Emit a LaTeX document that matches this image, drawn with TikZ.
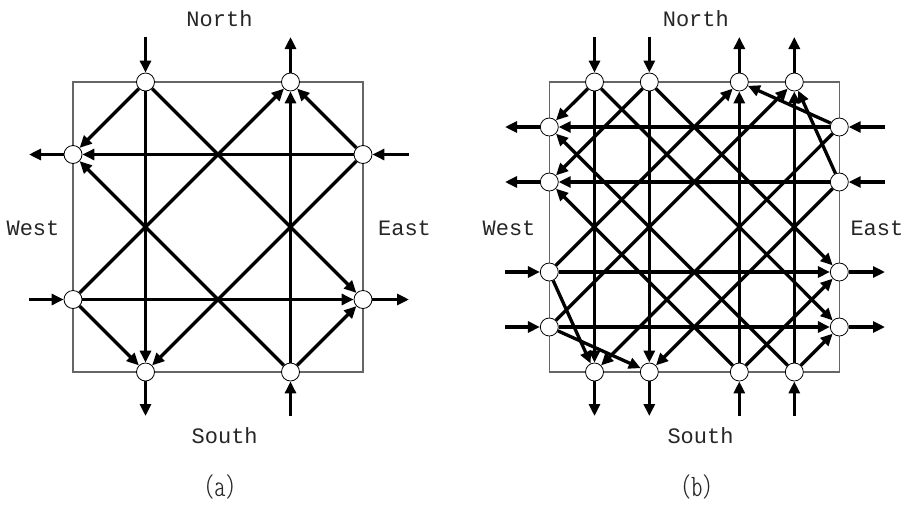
\documentclass[tikz,border=0pt]{standalone}
\usepackage{fontspec}
\newfontfamily\lblfont{Liberation Mono}
\usetikzlibrary{arrows.meta}
\tikzset{
  port/.style={circle,draw,line width=0.8pt,fill=white,minimum size=18pt,inner sep=0pt},
  link/.style={line width=3.3pt,-{Triangle[length=12pt,width=11pt]}},
  frame/.style={draw=black!60,line width=1.3pt},
  dirlabel/.style={font=\lblfont\fontsize{22}{22}\selectfont,text=black!85,inner sep=0pt},
  caplabel/.style={font=\fontsize{24}{24}\fontfamily{lmtt}\fontseries{lc}\selectfont,text=black!85,inner sep=0pt,scale=1.3}
}
\begin{document}
\begin{tikzpicture}[x=1pt,y=-1pt]
\useasboundingbox (0,0) rectangle (904,504);
% ---------------- panel (a) ----------------
\draw[frame] (73,82) rectangle (363,372);
\node[port] (an1) at (145.5,82) {};
\node[port] (an2) at (290.5,82) {};
\node[port] (aw1) at (73,154.5) {};
\node[port] (aw2) at (73,299.5) {};
\node[port] (ae1) at (363,154.5) {};
\node[port] (ae2) at (363,299.5) {};
\node[port] (as1) at (145.5,372) {};
\node[port] (as2) at (290.5,372) {};
\coordinate (an1x) at (145.5,37);
\coordinate (an2x) at (290.5,37);
\coordinate (aw1x) at (29,154.5);
\coordinate (aw2x) at (29,299.5);
\coordinate (ae1x) at (409,154.5);
\coordinate (ae2x) at (409,299.5);
\coordinate (as1x) at (145.5,416);
\coordinate (as2x) at (290.5,416);
\draw[link] (an1x) -- (an1);
\draw[link] (an2) -- (an2x);
\draw[link] (aw1) -- (aw1x);
\draw[link] (aw2x) -- (aw2);
\draw[link] (ae1x) -- (ae1);
\draw[link] (ae2) -- (ae2x);
\draw[link] (as1) -- (as1x);
\draw[link] (as2x) -- (as2);
\draw[link] (an1) -- (aw1);
\draw[link] (an1) -- (as1);
\draw[link] (an1) -- (ae2);
\draw[link] (ae1) -- (aw1);
\draw[link] (ae1) -- (an2);
\draw[link] (ae1) -- (as1);
\draw[link] (aw2) -- (ae2);
\draw[link] (aw2) -- (as1);
\draw[link] (aw2) -- (an2);
\draw[link] (as2) -- (an2);
\draw[link] (as2) -- (ae2);
\draw[link] (as2) -- (aw1);
\node[dirlabel] (alN) at (219.5,19) {North};
\node[dirlabel] (alW) at (33,228) {West};
\node[dirlabel] (alE) at (404.5,228) {East};
\node[dirlabel] (alS) at (224.7,436) {South};
\node[caplabel] (acap) at (220,487) {(a)};
% ---------------- panel (b) ----------------
\draw[frame] (549.3,82) rectangle (839.3,372);
\node[port] (bn1) at (594.5,82) {};
\node[port] (bn2) at (649.3,82) {};
\node[port] (bn3) at (739.3,82) {};
\node[port] (bn4) at (794.3,82) {};
\node[port] (bw1) at (549.3,127) {};
\node[port] (bw2) at (549.3,182) {};
\node[port] (bw3) at (549.3,272) {};
\node[port] (bw4) at (549.3,327) {};
\node[port] (be1) at (839.3,127) {};
\node[port] (be2) at (839.3,182) {};
\node[port] (be3) at (839.3,272) {};
\node[port] (be4) at (839.3,327) {};
\node[port] (bs1) at (594.5,372) {};
\node[port] (bs2) at (649.3,372) {};
\node[port] (bs3) at (739.3,372) {};
\node[port] (bs4) at (794.3,372) {};
\coordinate (bn1x) at (594.5,37);
\coordinate (bn2x) at (649.3,37);
\coordinate (bn3x) at (739.3,37);
\coordinate (bn4x) at (794.3,37);
\coordinate (bw1x) at (505,127);
\coordinate (bw2x) at (505,182);
\coordinate (bw3x) at (505,272);
\coordinate (bw4x) at (505,327);
\coordinate (be1x) at (885,127);
\coordinate (be2x) at (885,182);
\coordinate (be3x) at (885,272);
\coordinate (be4x) at (885,327);
\coordinate (bs1x) at (594.5,416);
\coordinate (bs2x) at (649.3,416);
\coordinate (bs3x) at (739.3,416);
\coordinate (bs4x) at (794.3,416);
\draw[link] (bn1x) -- (bn1);
\draw[link] (bn2x) -- (bn2);
\draw[link] (bn3) -- (bn3x);
\draw[link] (bn4) -- (bn4x);
\draw[link] (bw1) -- (bw1x);
\draw[link] (bw2) -- (bw2x);
\draw[link] (bw3x) -- (bw3);
\draw[link] (bw4x) -- (bw4);
\draw[link] (be1x) -- (be1);
\draw[link] (be2x) -- (be2);
\draw[link] (be3) -- (be3x);
\draw[link] (be4) -- (be4x);
\draw[link] (bs1) -- (bs1x);
\draw[link] (bs2) -- (bs2x);
\draw[link] (bs3x) -- (bs3);
\draw[link] (bs4x) -- (bs4);
% internal connections
\draw[link] (bn1) -- (bw1);
\draw[link] (bn1) -- (bs1);
\draw[link] (bn1) -- (be4);
\draw[link] (bn2) -- (bw2);
\draw[link] (bn2) -- (bs2);
\draw[link] (bn2) -- (be3);
\draw[link] (be1) -- (bw1);
\draw[link] (be1) -- (bn3);
\draw[link] (be1) -- (bs1);
\draw[link] (be2) -- (bw2);
\draw[link] (be2) -- (bn4);
\draw[link] (be2) -- (bs2);
\draw[link] (bw3) -- (be3);
\draw[link] (bw3) -- (bs1);
\draw[link] (bw3) -- (bn3);
\draw[link] (bw4) -- (be4);
\draw[link] (bw4) -- (bs2);
\draw[link] (bw4) -- (bn4);
\draw[link] (bs3) -- (bn3);
\draw[link] (bs3) -- (bw2);
\draw[link] (bs3) -- (be3);
\draw[link] (bs4) -- (bn4);
\draw[link] (bs4) -- (bw1);
\draw[link] (bs4) -- (be4);
\node[dirlabel] (blN) at (695.8,19) {North};
\node[dirlabel] (blW) at (509,228) {West};
\node[dirlabel,anchor=east] (blE) at (903.5,228) {East};
\node[dirlabel] (blS) at (700.5,436) {South};
\node[caplabel] (bcap) at (696.7,487) {(b)};
\end{tikzpicture}
\end{document}
